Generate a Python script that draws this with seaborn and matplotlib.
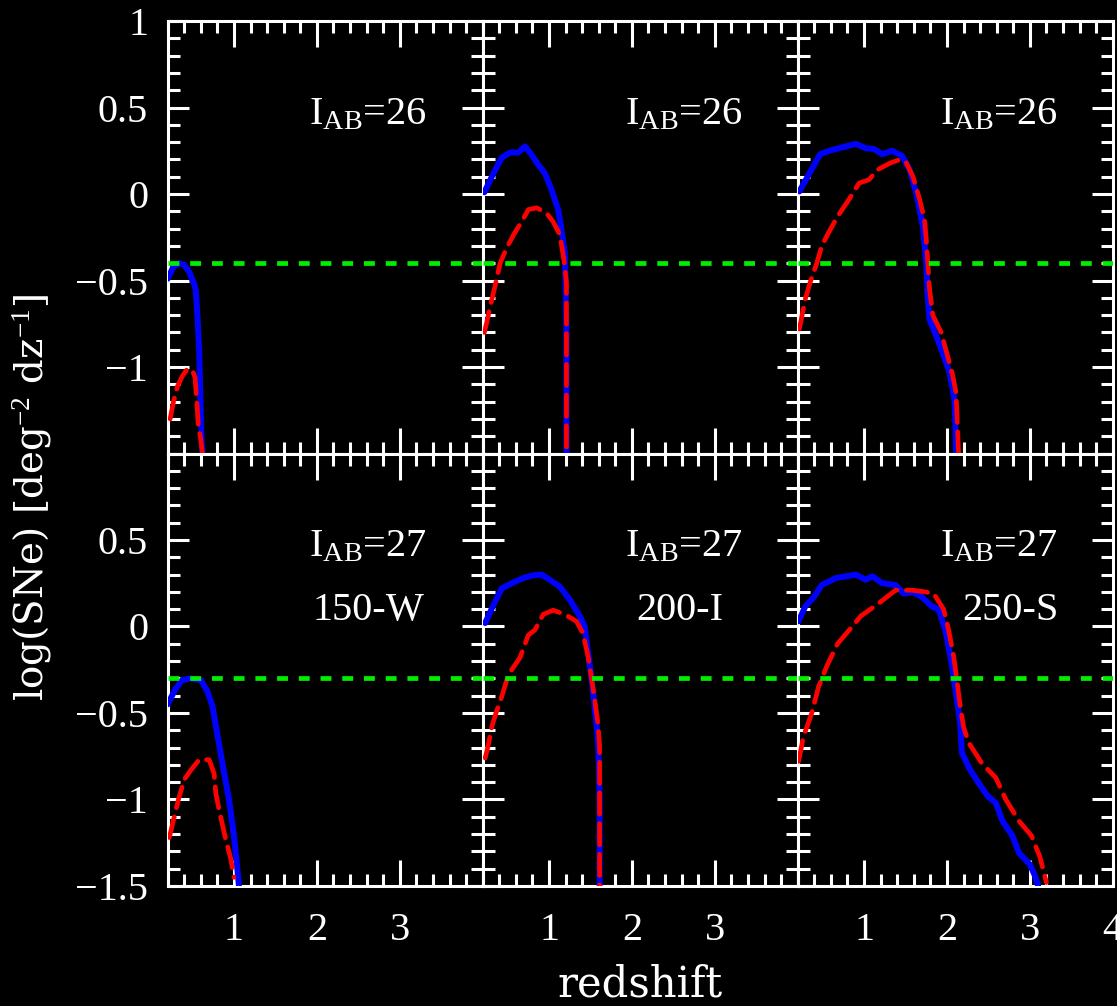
import matplotlib
matplotlib.use("Agg")
import matplotlib.pyplot as plt
from matplotlib.ticker import FixedLocator, FixedFormatter, MultipleLocator
import numpy as np
import pandas as pd
import seaborn as sns

# ---- data: log cumulative SN counts per unit redshift ----
mags = ["26", "27"]
filters = ["150-W", "200-I", "250-S"]
thresholds = [-0.4, -0.3]

# row 0 (I_AB = 26)
blue1_z = [0.20, 0.27, 0.34, 0.40, 0.46, 0.52, 0.54, 0.56, 0.58, 0.59, 0.60, 0.61, 0.62]
blue1_y = [-0.49, -0.42, -0.40, -0.41, -0.45, -0.52, -0.56, -0.71, -0.90, -1.09, -1.28, -1.42, -1.50]
red1_z = [0.23, 0.27, 0.32, 0.38, 0.44, 0.50, 0.53, 0.55, 0.57, 0.60, 0.62]
red1_y = [-1.30, -1.20, -1.11, -1.05, -1.01, -1.02, -1.06, -1.19, -1.34, -1.42, -1.50]

blue2_z = [0.22, 0.33, 0.43, 0.53, 0.63, 0.71, 0.77, 0.87, 0.95, 1.03, 1.11, 1.15, 1.19, 1.20, 1.21, 1.21]
blue2_y = [0.01, 0.12, 0.21, 0.24, 0.24, 0.275, 0.24, 0.17, 0.12, 0.025, -0.09, -0.205, -0.34, -0.51, -0.80, -1.50]
red2_z = [0.22, 0.25, 0.29, 0.35, 0.41, 0.49, 0.58, 0.67, 0.75, 0.85, 0.97, 1.05, 1.13, 1.18, 1.21, 1.21]
red2_y = [-0.80, -0.74, -0.65, -0.53, -0.40, -0.31, -0.23, -0.16, -0.09, -0.08, -0.11, -0.16, -0.235, -0.38, -0.51, -1.50]

blue3_z = [0.22, 0.33, 0.47, 0.58, 0.70, 0.90, 1.02, 1.12, 1.22, 1.34, 1.46, 1.55, 1.63, 1.71, 1.75,
           1.77, 1.79, 1.87, 1.95, 2.03, 2.09, 2.10, 2.11]
blue3_y = [0.015, 0.11, 0.23, 0.25, 0.265, 0.29, 0.265, 0.26, 0.23, 0.25, 0.22, 0.14, 0.005, -0.19, -0.40,
           -0.61, -0.725, -0.82, -0.92, -1.03, -1.19, -1.30, -1.50]
red3_z = [0.22, 0.29, 0.35, 0.43, 0.49, 0.57, 0.68, 0.82, 0.94, 1.06, 1.16, 1.32, 1.44, 1.51, 1.59, 1.67,
          1.73, 1.75, 1.77, 1.79, 1.83, 1.93, 2.01, 2.07, 2.11, 2.13, 2.14]
red3_y = [-0.78, -0.61, -0.51, -0.40, -0.30, -0.225, -0.13, -0.03, 0.063, 0.083, 0.14, 0.18, 0.20, 0.18, 0.10,
          -0.03, -0.15, -0.26, -0.40, -0.55, -0.70, -0.80, -0.94, -1.05, -1.15, -1.38, -1.50]

# row 1 (I_AB = 27)
blue4_z = [0.20, 0.29, 0.375, 0.475, 0.60, 0.68, 0.74, 0.80, 0.86, 0.94, 1.00, 1.03, 1.06]
blue4_y = [-0.45, -0.365, -0.31, -0.30, -0.31, -0.375, -0.46, -0.625, -0.79, -1.00, -1.21, -1.35, -1.50]
red4_z = [0.22, 0.25, 0.29, 0.33, 0.40, 0.48, 0.58, 0.70, 0.76, 0.78, 0.82, 0.90, 0.96, 1.00]
red4_y = [-1.22, -1.16, -1.08, -1.00, -0.885, -0.83, -0.77, -0.77, -0.85, -0.96, -1.06, -1.23, -1.34, -1.45]

blue5_z = [0.23, 0.33, 0.43, 0.55, 0.69, 0.81, 0.91, 1.01, 1.13, 1.25, 1.37, 1.43, 1.47, 1.51, 1.55,
           1.59, 1.60, 1.61, 1.61]
blue5_y = [0.02, 0.125, 0.22, 0.25, 0.28, 0.296, 0.30, 0.27, 0.23, 0.156, 0.06, 0.0, -0.146, -0.29, -0.46,
           -0.65, -0.79, -1.00, -1.50]
red5_z = [0.23, 0.27, 0.31, 0.36, 0.42, 0.49, 0.55, 0.65, 0.75, 0.83, 0.93, 1.05, 1.19, 1.33, 1.41,
          1.47, 1.51, 1.55, 1.59, 1.61, 1.61]
red5_y = [-0.76, -0.68, -0.58, -0.50, -0.42, -0.31, -0.25, -0.18, -0.05, -0.02, 0.07, 0.094, 0.07, 0.03, -0.04,
          -0.17, -0.29, -0.42, -0.56, -0.69, -1.50]

blue6_z = [0.21, 0.29, 0.39, 0.49, 0.66, 0.90, 1.02, 1.10, 1.22, 1.38, 1.48, 1.58, 1.70, 1.82, 1.90, 1.98,
           2.04, 2.08, 2.12, 2.16, 2.18, 2.28, 2.39, 2.49, 2.59, 2.67, 2.79, 2.87, 3.00, 3.06, 3.10]
blue6_y = [0.03, 0.115, 0.167, 0.24, 0.28, 0.30, 0.27, 0.29, 0.25, 0.24, 0.19, 0.20, 0.17, 0.115, 0.10, -0.02,
           -0.17, -0.29, -0.42, -0.56, -0.73, -0.83, -0.91, -0.98, -1.02, -1.125, -1.21, -1.31, -1.375, -1.44, -1.50]
red6_z = [0.21, 0.27, 0.37, 0.45, 0.55, 0.68, 0.84, 0.96, 1.18, 1.38, 1.58, 1.74, 1.84, 1.96, 2.02, 2.08,
          2.12, 2.16, 2.20, 2.26, 2.42, 2.59, 2.71, 2.87, 3.02, 3.12, 3.20]
red6_y = [-0.78, -0.635, -0.50, -0.35, -0.23, -0.10, -0.01, 0.06, 0.135, 0.21, 0.21, 0.20, 0.19, 0.10, -0.02, -0.17,
          -0.31, -0.46, -0.58, -0.67, -0.79, -0.875, -1.00, -1.125, -1.21, -1.33, -1.48]

x_ticks = [1, 2, 3, 4]
y_ticks = [-1.5, -1.0, -0.5, 0.0, 0.5, 1.0]
x_ticklabels = ["1", "2", "3", "4"]
y_ticklabels = ["\u22121.5", "\u22121", "\u22120.5", "0", "0.5", "1"]

curves = {
    (0, 0): (blue1_z, blue1_y, red1_z, red1_y),
    (0, 1): (blue2_z, blue2_y, red2_z, red2_y),
    (0, 2): (blue3_z, blue3_y, red3_z, red3_y),
    (1, 0): (blue4_z, blue4_y, red4_z, red4_y),
    (1, 1): (blue5_z, blue5_y, red5_z, red5_y),
    (1, 2): (blue6_z, blue6_y, red6_z, red6_y),
}

frames = []
for (r, c), (bz, by, rz, ry) in curves.items():
    frames.append(pd.DataFrame({"row": r, "col": c, "model": "blue", "z": bz, "logN": by}))
    frames.append(pd.DataFrame({"row": r, "col": c, "model": "red", "z": rz, "logN": ry}))
df = pd.concat(frames, ignore_index=True)

# ---- style ----
sns.set_theme(style="ticks")
plt.rcParams.update({
    "font.family": ["Liberation Serif", "DejaVu Serif"],
    "mathtext.fontset": "custom",
    "mathtext.rm": "Liberation Serif",
    "mathtext.it": "Liberation Serif:italic",
    "mathtext.bf": "Liberation Serif:bold",
    "mathtext.default": "rm",
    "figure.facecolor": "black",
    "axes.facecolor": "black",
    "axes.edgecolor": "white",
    "axes.linewidth": 2.2,
    "text.color": "white",
    "xtick.color": "white",
    "ytick.color": "white",
})

fig, axes = plt.subplots(2, 3, figsize=(11.17, 10.06), dpi=100)
fig.subplots_adjust(left=0.1501, right=0.9962, top=0.9791, bottom=0.1193, wspace=0, hspace=0)

tick_fs = 29
for r in range(2):
    for c in range(3):
        ax = axes[r, c]
        ax.set_facecolor("black")
        sub = df[(df.row == r) & (df.col == c)]
        sns.lineplot(data=sub[sub.model == "blue"], x="z", y="logN", ax=ax, sort=False,
                     estimator=None, color="#0000ff", lw=4.3, solid_capstyle="round",
                     solid_joinstyle="round", zorder=3)
        sns.lineplot(data=sub[sub.model == "red"], x="z", y="logN", ax=ax, sort=False,
                     estimator=None, color="#ff0000", lw=3.4, linestyle=(0, (4.5, 2.0)),
                     dash_capstyle="round", zorder=4)
        ax.axhline(thresholds[r], color="#00ee00", lw=3.4, linestyle=(0, (2.3, 2.3)),
                   dash_capstyle="butt", zorder=5)

        ax.set_xlim(0.2, 4.0)
        ax.set_ylim(-1.5, 1.0)
        ax.set_xlabel("")
        ax.set_ylabel("")
        ax.xaxis.set_major_locator(FixedLocator(x_ticks))
        ax.xaxis.set_minor_locator(MultipleLocator(0.2))
        ax.yaxis.set_major_locator(FixedLocator(y_ticks))
        ax.yaxis.set_minor_locator(MultipleLocator(0.1))
        ax.tick_params(which="both", direction="in", top=True, right=True,
                       width=2.2, colors="white", labelsize=tick_fs)
        ax.tick_params(axis="x", which="major", length=19, pad=19)
        ax.tick_params(axis="y", which="major", length=15, pad=14)
        ax.tick_params(which="minor", length=8.5)
        for sp in ax.spines.values():
            sp.set_color("white")
            sp.set_linewidth(2.2)

        if r == 1:
            labs = list(x_ticklabels)
            if c != 2:
                labs[-1] = ""
            ax.xaxis.set_major_formatter(FixedFormatter(labs))
        else:
            ax.tick_params(axis="x", labelbottom=False)
        if c == 0:
            labs = list(y_ticklabels)
            if r == 0:
                labs[0] = ""
            else:
                labs[-1] = ""
            ax.yaxis.set_major_formatter(FixedFormatter(labs))
        else:
            ax.tick_params(axis="y", labelleft=False)

        ax.text(3.33, 0.405, r"I$_{\mathrm{AB}}$=" + mags[r], ha="right", va="baseline",
                fontsize=tick_fs, color="white")
        if r == 1:
            ax.text([2.62, 2.58, 2.77][c], 0.035, filters[c], ha="center", va="baseline",
                    fontsize=tick_fs, color="white")

fig.text(0.573, 0.009, "redshift", ha="center", va="baseline", fontsize=30,
         family="DejaVu Serif", color="white")
fig.text(0.029, 0.505, r"log(SNe) [deg$^{-2}$ dz$^{-1}$]", ha="center", va="center",
         rotation=90, fontsize=28, family="DejaVu Serif", color="white")

fig.savefig("out.png", dpi=100, facecolor="black")
